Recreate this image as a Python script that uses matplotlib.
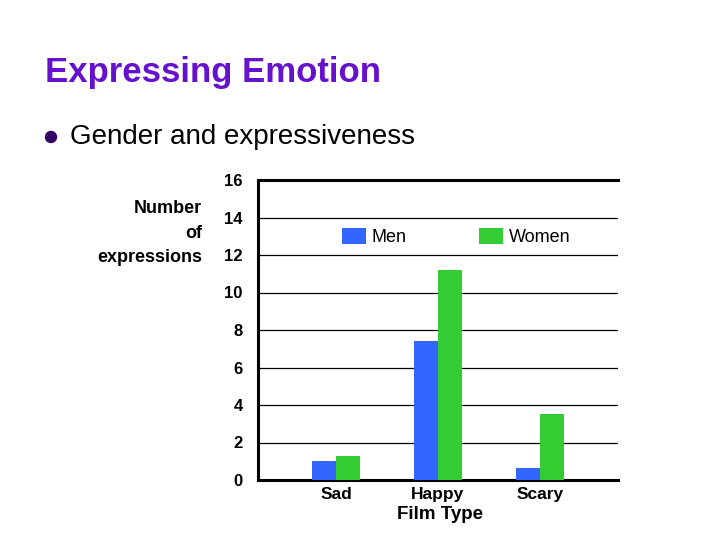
import numpy as np
import matplotlib
matplotlib.use('Agg')
import matplotlib.pyplot as plt
from matplotlib.patches import Ellipse

plt.rcParams['font.family'] = 'Liberation Sans'

# ==================== data ====================
film_types = ['Sad', 'Happy', 'Scary']
men = [1.0, 7.4, 0.65]
women = [1.3, 11.2, 3.5]
y_ticks = [0, 2, 4, 6, 8, 10, 12, 14, 16]

blue = '#3366FF'
green = '#33CC33'

# ==================== figure ====================
fig = plt.figure(figsize=(7.2, 5.4), dpi=100)

fig.text(45 / 720, 1 - 82 / 540, 'Expressing Emotion', fontsize=25,
         fontweight='bold', color='#6611CC', ha='left', va='baseline')
fig.patches.append(Ellipse((51 / 720, 1 - 137 / 540), 11 / 720, 11 / 540,
                           transform=fig.transFigure, color='#330066'))
fig.text(70 / 720, 1 - 144 / 540, 'Gender and expressiveness', fontsize=20,
         color='black', ha='left', va='baseline')

ax = fig.add_axes([258 / 720, 1 - 480 / 540, 360 / 720, 300 / 540])

x = np.arange(len(film_types))
w = 0.235
ax.bar(x - w / 2, men, w, color=blue, label='Men', zorder=3)
ax.bar(x + w / 2, women, w, color=green, label='Women', zorder=3)

ax.set_xlim(-0.765, 2.765)
ax.set_ylim(0, 16)
ax.set_yticks(y_ticks)
ax.set_yticklabels([str(t) for t in y_ticks], fontsize=12, fontweight='bold')
ax.set_xticks(x)
ax.set_xticklabels(film_types, fontsize=12.5, fontweight='bold')
ax.tick_params(axis='both', length=0)
ax.tick_params(axis='y', pad=11)
ax.tick_params(axis='x', pad=5)

ax.yaxis.grid(True, color='black', linewidth=0.9)
ax.set_axisbelow(True)

for s in ['top', 'left', 'bottom']:
    ax.spines[s].set_linewidth(2.2)
ax.spines['right'].set_visible(False)

ax.set_ylabel('Number\nof\nexpressions', rotation=0, fontsize=13,
              fontweight='bold', ha='right', va='center',
              multialignment='right', linespacing=1.55)
ax.yaxis.set_label_coords(-0.1556, 0.8233)
ax.set_xlabel('Film Type', fontsize=13.5, fontweight='bold', va='center')
ax.xaxis.set_label_coords(0.5056, -0.115)

ax.legend(loc='upper left', bbox_to_anchor=(342 / 720, 1 - 228 / 540),
          bbox_transform=fig.transFigure, ncol=2, frameon=False,
          fontsize=13, borderpad=0, borderaxespad=0,
          handlelength=1.33, handleheight=1.0, handletextpad=0.33,
          columnspacing=4.0)

plt.savefig('out.png', dpi=100)
